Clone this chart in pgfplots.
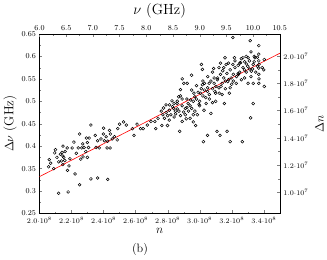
\documentclass[border=0pt]{standalone}
\usepackage{pgfplots}
\pgfplotsset{compat=1.18}

% fitted line: Delta nu vs n (n in units of 1e8)
\pgfplotsset{
  every tick label/.append style={font=\fontsize{7.5}{8}\selectfont},
  every axis label/.append style={font=\fontsize{13}{15}\selectfont},
}

\begin{document}
\begin{tikzpicture}
\begin{axis}[
  name=main,
  width=237pt, height=177pt, scale only axis,
  xmin=2.0, xmax=3.5, ymin=0.25, ymax=0.65,
  xtick={2.0,2.2,2.4,2.6,2.8,3.0,3.2,3.4},
  xticklabels={$2.0{\cdot}10^{8}$,$2.2{\cdot}10^{8}$,$2.4{\cdot}10^{8}$,$2.6{\cdot}10^{8}$,$2.8{\cdot}10^{8}$,$3.0{\cdot}10^{8}$,$3.2{\cdot}10^{8}$,$3.4{\cdot}10^{8}$},
  ytick={0.25,0.3,0.35,0.4,0.45,0.5,0.55,0.6,0.65},
  yticklabels={0.25,0.3,0.35,0.4,0.45,0.5,0.55,0.6,0.65},
  xtick pos=bottom, ytick pos=left,
  minor x tick num=1, minor y tick num=1,
  major tick length=3pt, minor tick length=1.8pt,
  xlabel={$n$}, ylabel={$\Delta\nu$ (GHz)},
  xlabel style={yshift=2pt}, ylabel style={yshift=-2pt},
  axis line style={line width=0.6pt},
]
\addplot[only marks, mark=o, mark size=1.4pt, mark options={line width=0.5pt, black}] table {
x y
2.061 0.370
2.089 0.350
2.057 0.354
2.095 0.385
2.109 0.375
2.120 0.365
2.131 0.382
2.141 0.386
2.146 0.378
2.137 0.367
2.152 0.375
2.158 0.368
2.146 0.359
2.184 0.356
2.175 0.346
2.147 0.400
2.173 0.396
2.204 0.396
2.215 0.409
2.230 0.384
2.242 0.396
2.251 0.427
2.264 0.396
2.278 0.397
2.258 0.371
2.272 0.376
2.289 0.388
2.293 0.418
2.299 0.408
2.306 0.397
2.299 0.375
2.321 0.447
2.348 0.424
2.353 0.397
2.363 0.412
2.373 0.396
2.384 0.416
2.399 0.427
2.405 0.412
2.416 0.421
2.426 0.411
2.437 0.435
2.443 0.427
2.422 0.396
2.441 0.396
2.454 0.416
2.468 0.421
2.485 0.414
2.489 0.439
2.500 0.449
2.525 0.454
2.542 0.447
2.580 0.439
2.590 0.424
2.609 0.449
2.631 0.439
2.647 0.439
2.673 0.447
2.222 0.338
2.251 0.314
2.321 0.327
2.363 0.329
2.426 0.326
2.120 0.295
2.179 0.298
2.070 0.362
2.100 0.392
2.160 0.388
2.190 0.372
2.270 0.405
2.310 0.418
2.400 0.440
2.696 0.455
2.726 0.439
2.764 0.446
2.799 0.446
2.875 0.433
2.891 0.455
2.916 0.461
2.960 0.454
2.975 0.446
3.023 0.410
3.049 0.424
3.108 0.433
3.127 0.424
3.171 0.433
3.190 0.410
3.266 0.410
3.318 0.463
3.334 0.495
2.770 0.470
2.774 0.485
2.812 0.492
2.827 0.501
2.848 0.478
2.837 0.484
2.859 0.495
2.869 0.510
2.880 0.526
2.891 0.550
2.901 0.540
2.922 0.540
2.911 0.484
2.928 0.495
2.943 0.503
2.949 0.558
2.964 0.518
2.960 0.470
2.985 0.470
2.996 0.493
3.006 0.518
3.011 0.582
3.017 0.571
3.017 0.537
3.027 0.480
3.038 0.508
3.049 0.522
3.059 0.540
3.070 0.473
3.080 0.497
3.087 0.573
3.095 0.522
3.101 0.533
3.112 0.552
3.122 0.518
3.133 0.533
3.144 0.568
3.154 0.495
3.158 0.597
3.165 0.582
3.175 0.544
3.185 0.518
3.196 0.552
3.207 0.582
3.217 0.597
3.228 0.540
3.242 0.560
3.255 0.586
3.270 0.597
3.280 0.552
3.291 0.583
3.302 0.597
3.315 0.635
3.323 0.567
3.334 0.582
3.344 0.597
3.369 0.624
3.369 0.605
3.369 0.590
3.369 0.574
3.369 0.560
3.369 0.540
3.403 0.593
3.403 0.533
3.207 0.642
3.302 0.540
3.334 0.540
2.78 0.462
2.79 0.475
2.80 0.468
2.81 0.480
2.82 0.470
2.83 0.488
2.84 0.465
2.85 0.472
2.86 0.483
2.87 0.478
2.88 0.468
2.89 0.490
2.90 0.476
2.91 0.470
2.92 0.486
2.93 0.478
2.94 0.490
2.95 0.484
2.96 0.500
2.97 0.510
2.98 0.505
2.99 0.520
3.00 0.500
3.01 0.528
3.02 0.512
3.03 0.525
3.04 0.495
3.05 0.530
3.06 0.515
3.07 0.545
3.08 0.528
3.09 0.540
3.10 0.518
3.11 0.548
3.12 0.530
3.13 0.560
3.14 0.540
3.15 0.552
3.16 0.528
3.17 0.562
3.18 0.548
3.19 0.570
3.20 0.538
3.21 0.560
3.22 0.575
3.23 0.555
3.24 0.580
3.25 0.565
3.26 0.548
3.27 0.575
3.28 0.588
3.29 0.565
3.30 0.578
3.31 0.590
3.32 0.555
3.33 0.572
3.34 0.588
3.35 0.565
3.36 0.578
3.37 0.582
3.37 0.550
3.36 0.598
2.86 0.500
2.88 0.512
2.92 0.505
2.95 0.525
2.98 0.535
3.02 0.545
3.05 0.555
3.08 0.565
3.12 0.575
3.15 0.575
3.18 0.585
3.22 0.590
3.26 0.595
3.28 0.570
3.31 0.572
3.24 0.562
3.06 0.505
3.10 0.500
3.14 0.515
3.19 0.530
3.00 0.490
2.97 0.478
2.94 0.462
3.03 0.540
3.09 0.552
3.16 0.545
2.84 0.495
2.81 0.458
2.76 0.478
2.74 0.462
2.72 0.455
2.79 0.492
2.89 0.505
3.13 0.585
3.21 0.545
3.25 0.585
3.29 0.600
3.34 0.600
3.32 0.610
3.39 0.575
3.40 0.570
};
\addplot[red, line width=0.6pt] coordinates {(2.0,0.332) (3.5,0.607)};
\end{axis}
\begin{axis}[
  width=237pt, height=177pt, scale only axis,
  xmin=6.0, xmax=10.5, ymin=0.847e7, ymax=2.161e7,
  axis x line*=top, axis y line*=right,
  xtick={6.0,6.5,7.0,7.5,8.0,8.5,9.0,9.5,10.0,10.5},
  xticklabels={6.0,6.5,7.0,7.5,8.0,8.5,9.0,9.5,10.0,10.5},
  ytick={1.0e7,1.2e7,1.4e7,1.6e7,1.8e7,2.0e7},
  yticklabels={$1.0{\cdot}10^{7}$,$1.2{\cdot}10^{7}$,$1.4{\cdot}10^{7}$,$1.6{\cdot}10^{7}$,$1.8{\cdot}10^{7}$,$2.0{\cdot}10^{7}$},
  scaled y ticks=false,
  minor x tick num=1, minor y tick num=1,
  major tick length=3pt, minor tick length=1.8pt,
  xlabel={$\nu$ (GHz)}, ylabel={$\Delta n$},
  xlabel style={font=\fontsize{14.5}{16}\selectfont},
  axis line style={line width=0.6pt},
]
\end{axis}
\node[anchor=north, font=\fontsize{12}{14}\selectfont] at ([yshift=-3pt]main.outer south) {(b)};
\end{tikzpicture}
\end{document}
